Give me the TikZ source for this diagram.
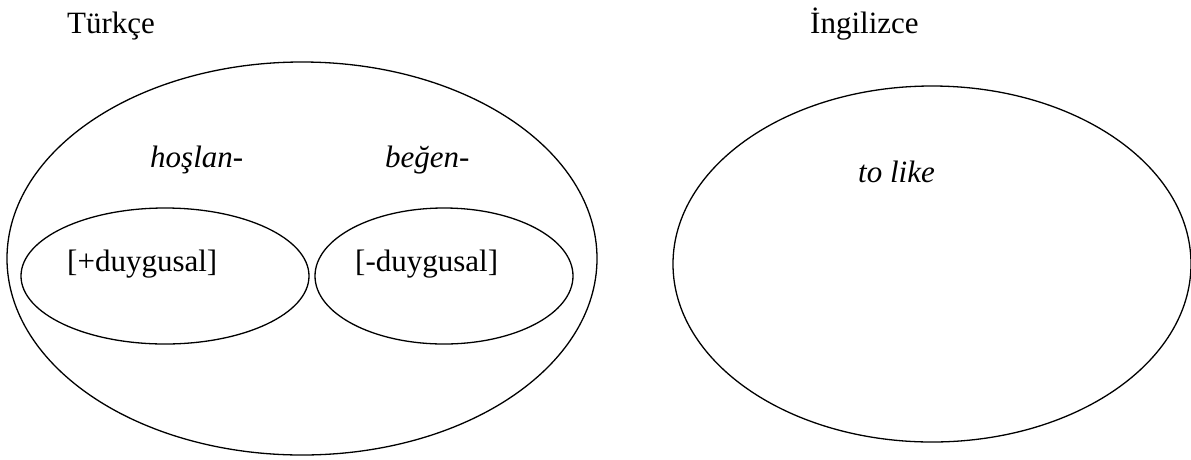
\documentclass[tikz,border=0pt]{standalone}
\usepackage{fontspec}
\setmainfont{Liberation Serif}
\begin{document}
\begin{tikzpicture}[x=1pt,y=-1pt,
  set/.style={line width=1.3pt},
  lbl/.style={anchor=base west,inner sep=0pt,font=\fontsize{31}{37}\selectfont},
  ilbl/.style={lbl,font=\fontsize{31}{37}\selectfont\itshape}]
\useasboundingbox (0,0) rectangle (1191,459);
% outer sets
\draw[set] (302,258.5) ellipse [x radius=295pt, y radius=196.5pt];
\draw[set] (932,264) ellipse [x radius=259pt, y radius=178pt];
% inner subsets of the Turkish set
\draw[set] (165,276) ellipse [x radius=144pt, y radius=68pt];
\draw[set] (444,276) ellipse [x radius=129pt, y radius=68pt];
% labels
\node[lbl] (tr) at (67,33) {Türkçe};
\node[lbl] (en) at (810,33) {İngilizce};
\node[ilbl] (hos) at (150,167) {hoşlan-};
\node[ilbl] (beg) at (385,167) {beğen-};
\node[ilbl] (like) at (858,182) {to like};
\node[lbl] (pos) at (67,271) {[+duygusal]};
\node[lbl] (neg) at (355,271) {[-duygusal]};
\end{tikzpicture}
\end{document}
